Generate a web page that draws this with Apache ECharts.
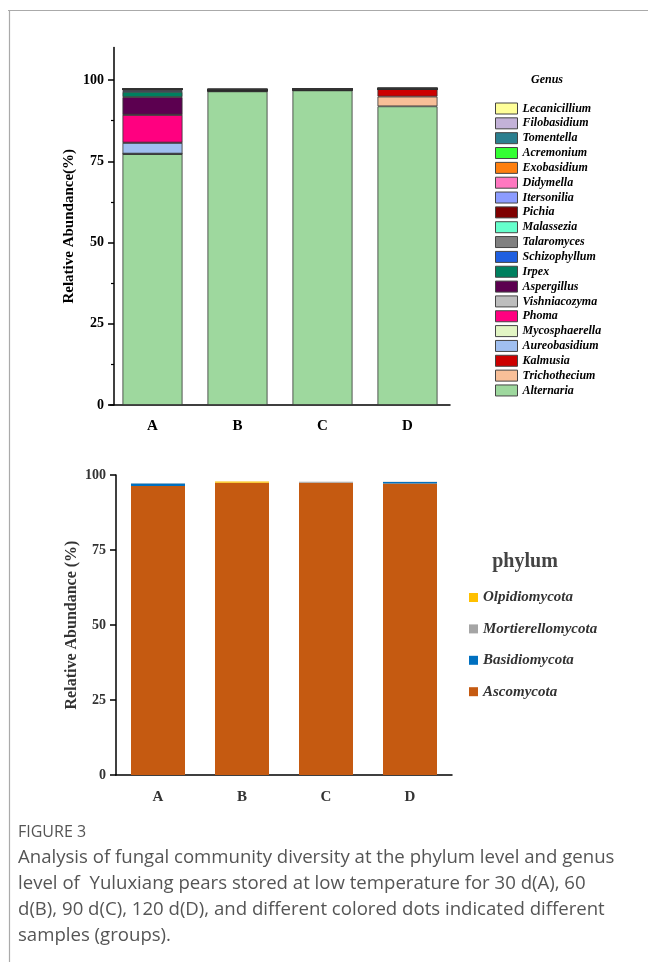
<!DOCTYPE html>
<html>
<head>
<meta charset="utf-8">
<script src="https://cdn.jsdelivr.net/npm/echarts@6/dist/echarts.min.js"></script>
<style>
  html, body { margin: 0; padding: 0; background: #fff; }
  #chart { width: 648px; height: 962px; }
</style>
</head>
<body>
<div id="chart"></div>
<script>
// Storage groups (30, 60, 90, 120 d)
const groups = ['A', 'B', 'C', 'D'];

// Genus level relative abundance (%), stacked bottom to top
const genusNames = [
  'Alternaria', 'Trichothecium', 'Kalmusia', 'Aureobasidium', 'Mycosphaerella',
  'Phoma', 'Vishniacozyma', 'Aspergillus', 'Irpex', 'Schizophyllum',
  'Talaromyces', 'Malassezia', 'Pichia', 'Itersonilia', 'Didymella',
  'Exobasidium', 'Acremonium', 'Tomentella', 'Filobasidium', 'Lecanicillium'
];
const genusColors = [
  '#9ed89e', '#f8bf98', '#cc0000', '#a0bff0', '#e2f5c4',
  '#ff0080', '#bdbdbd', '#5c0050', '#00805f', '#1f5fe0',
  '#808080', '#66ffcc', '#7f0000', '#8c9cff', '#ff77c0',
  '#ff7f0e', '#33ff33', '#2b7f8f', '#c3b2d8', '#ffff99'
];
const alternaria     = [77.2, 96.5, 96.8, 91.9];
const trichothecium  = [0.10, 0.05, 0.05, 3.0];
const kalmusia       = [0.05, 0.02, 0.02, 2.3];
const aureobasidium  = [3.3, 0.10, 0.05, 0.02];
const mycosphaerella = [0.10, 0.05, 0.05, 0.02];
const phoma          = [8.5, 0.02, 0.02, 0.02];
const vishniacozyma  = [0.10, 0.10, 0.05, 0.02];
const aspergillus    = [5.4, 0.02, 0.02, 0.02];
const irpex          = [1.6, 0.02, 0.02, 0.01];
const schizophyllum  = [0.50, 0.05, 0.02, 0.01];
const talaromyces    = [0.20, 0.10, 0.05, 0.01];
const malassezia     = [0.05, 0.02, 0.02, 0.01];
const pichia         = [0.03, 0.01, 0.01, 0.05];
const itersonilia    = [0.03, 0.01, 0.01, 0.01];
const didymella      = [0.03, 0.01, 0.01, 0.01];
const exobasidium    = [0.02, 0.01, 0.01, 0.01];
const acremonium     = [0.02, 0.01, 0.01, 0.01];
const tomentella     = [0.05, 0.05, 0.01, 0.01];
const filobasidium   = [0.02, 0.02, 0.01, 0.01];
const lecanicillium  = [0.02, 0.01, 0.01, 0.01];
const genusValues = [
  alternaria, trichothecium, kalmusia, aureobasidium, mycosphaerella,
  phoma, vishniacozyma, aspergillus, irpex, schizophyllum,
  talaromyces, malassezia, pichia, itersonilia, didymella,
  exobasidium, acremonium, tomentella, filobasidium, lecanicillium
];

// Phylum level relative abundance (%), stacked bottom to top
const phylumNames = ['Ascomycota', 'Basidiomycota', 'Mortierellomycota', 'Olpidiomycota'];
const phylumColors = ['#c55a11', '#0070c0', '#a5a5a5', '#ffc000'];
const ascomycota        = [96.3, 97.3, 97.4, 97.2];
const basidiomycota     = [0.9, 0.05, 0.05, 0.5];
const mortierellomycota = [0.05, 0.05, 0.3, 0.05];
const olpidiomycota     = [0.02, 0.4, 0.02, 0.02];
const phylumValues = [ascomycota, basidiomycota, mortierellomycota, olpidiomycota];

// Axis tick values
const genusTicks = [0, 25, 50, 75, 100];
const genusMinorTicks = [12.5, 37.5, 62.5, 87.5];
const phylumTicks = [0, 25, 50, 75, 100];

const serif = '"Liberation Serif", "Times New Roman", serif';
const sans = '"Open Sans", Lato, sans-serif';

const chart = echarts.init(document.getElementById('chart'), null, { renderer: 'canvas' });

const genusSeries = genusNames.map((name, i) => ({
  name: name,
  type: 'bar',
  stack: 'genus',
  xAxisIndex: 0,
  yAxisIndex: 0,
  barWidth: 60,
  data: genusValues[i],
  itemStyle: { color: genusColors[i], borderColor: '#333', borderWidth: 0.8 },
  emphasis: { disabled: true }
}));

const phylumSeries = phylumNames.map((name, i) => ({
  name: name,
  type: 'bar',
  stack: 'phylum',
  xAxisIndex: 2,
  yAxisIndex: 2,
  barWidth: 54,
  data: phylumValues[i],
  itemStyle: { color: phylumColors[i] },
  emphasis: { disabled: true }
}));

const captionLines = [
  'Analysis of fungal community diversity at the phylum level and genus',
  'level of  Yuluxiang pears stored at low temperature for 30 d(A), 60',
  'd(B), 90 d(C), 120 d(D), and different colored dots indicated different',
  'samples (groups).'
];

chart.setOption({
  animation: false,
  backgroundColor: '#fff',
  grid: [
    { left: 110, top: 47.5, width: 340, height: 357.5 },
    { left: 116, top: 475, width: 336, height: 300 }
  ],
  xAxis: [
    {
      type: 'category', gridIndex: 0, data: groups,
      axisLine: { lineStyle: { color: '#000', width: 1.5 } },
      axisTick: { alignWithLabel: true, length: 6, lineStyle: { color: '#000', width: 1.5 } },
      axisLabel: { margin: 14, color: '#000', fontFamily: serif, fontWeight: 'bold', fontSize: 15 }
    },
    {
      type: 'category', gridIndex: 0, data: groups, position: 'bottom',
      axisLine: { show: false },
      axisTick: { alignWithLabel: false, interval: 0, length: 3, lineStyle: { color: '#000', width: 1.2 } },
      axisLabel: { show: false }
    },
    {
      type: 'category', gridIndex: 1, data: groups,
      axisLine: { lineStyle: { color: '#000', width: 1.5 } },
      axisTick: { show: false },
      axisLabel: { margin: 15, color: '#333', fontFamily: serif, fontWeight: 'bold', fontSize: 15 }
    }
  ],
  yAxis: [
    {
      type: 'value', gridIndex: 0, min: 0, max: 110, offset: -4, position: 'left',
      name: 'Relative Abundance(%)', nameLocation: 'middle', nameGap: 37, nameMoveOverlap: false,
      nameTextStyle: { color: '#000', fontFamily: serif, fontWeight: 'bold', fontSize: 15 },
      splitLine: { show: false },
      axisLine: { show: true, lineStyle: { color: '#000', width: 1.5 } },
      axisTick: { show: true, length: 6, customValues: genusTicks, lineStyle: { color: '#000', width: 1.5 } },
      axisLabel: { margin: 10, customValues: genusTicks, color: '#000', fontFamily: serif, fontWeight: 'bold', fontSize: 14 }
    },
    {
      type: 'value', gridIndex: 0, min: 0, max: 110, offset: -4, position: 'left',
      splitLine: { show: false },
      axisLine: { show: false },
      axisTick: { show: true, length: 3, customValues: genusMinorTicks, lineStyle: { color: '#000', width: 1.2 } },
      axisLabel: { show: false }
    },
    {
      type: 'value', gridIndex: 1, min: 0, max: 100, position: 'left',
      name: 'Relative Abundance (%)', nameLocation: 'middle', nameGap: 36, nameMoveOverlap: false,
      nameTextStyle: { color: '#333', fontFamily: serif, fontWeight: 'bold', fontSize: 16 },
      splitLine: { show: false },
      axisLine: { show: true, lineStyle: { color: '#000', width: 1.5 } },
      axisTick: { show: true, length: 6, customValues: phylumTicks, lineStyle: { color: '#000', width: 1.5 } },
      axisLabel: { margin: 10, customValues: phylumTicks, color: '#333', fontFamily: serif, fontWeight: 'bold', fontSize: 14 }
    }
  ],
  legend: [
    {
      data: genusNames.slice().reverse(),
      orient: 'vertical', left: 495, top: 102.5, padding: 0,
      itemWidth: 22, itemHeight: 11, itemGap: 2.84,
      icon: 'rect', selectedMode: false,
      itemStyle: { borderColor: '#444', borderWidth: 1 },
      textStyle: { color: '#000', fontFamily: serif, fontWeight: 'bold', fontStyle: 'italic', fontSize: 12, lineHeight: 12 }
    },
    {
      data: phylumNames.slice().reverse(),
      orient: 'vertical', left: 469, top: 589.5, padding: 0,
      itemWidth: 9, itemHeight: 9, itemGap: 15.4,
      icon: 'rect', selectedMode: false,
      itemStyle: { borderWidth: 0 },
      textStyle: { color: '#333', fontFamily: serif, fontWeight: 'bold', fontStyle: 'italic', fontSize: 15, lineHeight: 16 }
    }
  ],
  graphic: [
    // page frame
    { type: 'line', shape: { x1: 8, y1: 10.5, x2: 648, y2: 10.5 }, style: { stroke: '#aaa', lineWidth: 1.2 } },
    { type: 'line', shape: { x1: 9.5, y1: 10, x2: 9.5, y2: 962 }, style: { stroke: '#aaa', lineWidth: 1.2 } },
    // legend titles
    { type: 'text', x: 547, y: 80, style: { text: 'Genus', fill: '#000', font: 'italic bold 12px ' + serif, textAlign: 'center', textVerticalAlign: 'middle' } },
    { type: 'text', x: 525, y: 562, style: { text: 'phylum', fill: '#444', font: 'bold 20px ' + serif, textAlign: 'center', textVerticalAlign: 'middle' } },
    // caption
    { type: 'text', x: 18, y: 832, style: { text: 'FIGURE 3', fill: '#555', font: '16px ' + sans, textVerticalAlign: 'middle' } },
    ...captionLines.map((t, i) => ({
      type: 'text', x: 18, y: 858 + i * 26,
      style: { text: t, fill: '#555', font: '18.6px ' + sans, textVerticalAlign: 'middle' }
    }))
  ],
  series: genusSeries.concat(phylumSeries)
});
</script>
</body>
</html>
